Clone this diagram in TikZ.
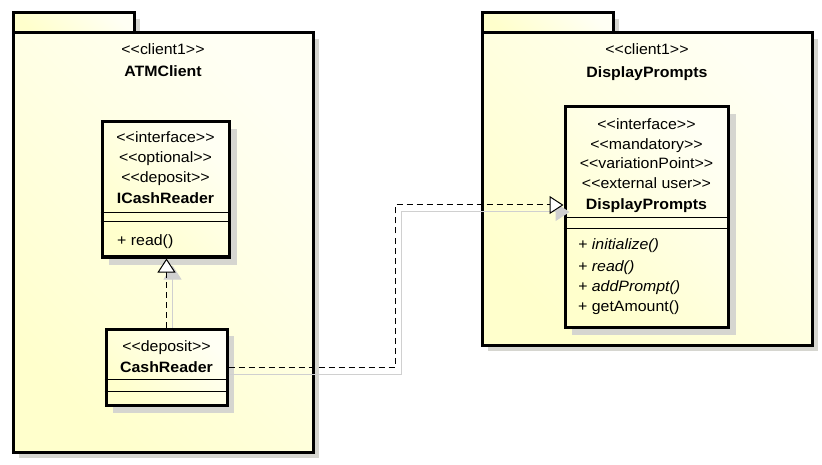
\documentclass[tikz,border=0pt]{standalone}
\usepackage{fontspec}
\setmainfont{Liberation Sans}[Ligatures=TeXOff, FakeStretch=1.06]
\usetikzlibrary{arrows.meta}
\definecolor{pkgA}{HTML}{FFFFF4}
\definecolor{pkgB}{HTML}{FFFFCC}
\definecolor{shadowgray}{HTML}{D6D6D0}
\definecolor{lineshadow}{HTML}{D0D0D0}
\tikzset{
  fnt/.style={font=\fontsize{15}{18}\selectfont, inner sep=0pt, anchor=base},
  ster/.style={fnt},
  title/.style={fnt, font=\fontsize{15}{18}\selectfont\bfseries},
  meth/.style={fnt, anchor=base west},
  imeth/.style={fnt, anchor=base west, font=\fontsize{15}{18}\selectfont\itshape},
  yfill/.style={left color=pkgA, right color=pkgB, shading angle=-45},
  pkgborder/.style={draw=black, line width=3pt},
  classbox/.style={rectangle, draw=black, line width=3pt, yfill, inner sep=0pt},
  shad/.style={fill=shadowgray, draw=none},
  sep/.style={draw=black, line width=1pt},
  dep/.style={draw=black, line width=1pt, dash pattern=on 6pt off 4pt,
    -{Triangle[open, fill=white, length=14pt, width=18pt, line width=1pt]}},
  depshadow/.style={draw=lineshadow, line width=1pt,
    -{Triangle[fill=lineshadow, length=14pt, width=18pt, line width=1pt]}},
}
\begin{document}
\begin{tikzpicture}[x=1pt, y=-1pt]
\useasboundingbox (0,0) rectangle (822,465);
% ---------- left package ----------
\fill[shad] (19,19) rectangle (140,39);
\fill[shad] (19,39) rectangle (319,458);
\shade[yfill] (13,13) rectangle (134,33);
\draw[pkgborder] (13,13) rectangle (134,33);
\shade[yfill] (13,33) rectangle (313,452);
\draw[pkgborder] (13,33) rectangle (313,452);
\node[ster] (lst) at (163,55) {<<client1>>};
\node[title] (ltitle) at (163,77) {ATMClient};
% ---------- right package ----------
\fill[shad] (488,19) rectangle (619,39);
\fill[shad] (488,39) rectangle (818,351);
\shade[yfill] (482,13) rectangle (613,33);
\draw[pkgborder] (482,13) rectangle (613,33);
\shade[yfill] (482,33) rectangle (812,345);
\draw[pkgborder] (482,33) rectangle (812,345);
\node[ster] (rst) at (647,55) {<<client1>>};
\node[title] (rtitle) at (647,78) {DisplayPrompts};
% ---------- ICashReader ----------
\fill[shad] (109,129) rectangle (237,265);
\node[classbox, minimum width=127pt, minimum height=135pt] (icr) at (165.5,189.5) {};
\draw[sep] (icr.west |- 0,213) -- (icr.east |- 0,213);
\draw[sep] (icr.west |- 0,222) -- (icr.east |- 0,222);
\node[ster] (icr1) at (165.5,143) {<<interface>>};
\node[ster] (icr2) at (165.5,163) {<<optional>>};
\node[ster] (icr3) at (165.5,183) {<<deposit>>};
\node[title] (icr4) at (165.5,204) {ICashReader};
\node[meth] (icrm) at (117,245) {+ read()};
% ---------- CashReader ----------
\fill[shad] (113,336) rectangle (234,413);
\node[classbox, minimum width=121pt, minimum height=76pt] (cr) at (166.5,367) {};
\draw[sep] (cr.west |- 0,379) -- (cr.east |- 0,379);
\draw[sep] (cr.west |- 0,391) -- (cr.east |- 0,391);
\node[ster] (cr1) at (166.5,351) {<<deposit>>};
\node[title] (cr2) at (166.5,372) {CashReader};
% ---------- DisplayPrompts class ----------
\fill[shad] (572,114) rectangle (736,335);
\node[classbox, minimum width=163pt, minimum height=220pt] (dp) at (646.5,217) {};
\draw[sep] (dp.west |- 0,218) -- (dp.east |- 0,218);
\draw[sep] (dp.west |- 0,229) -- (dp.east |- 0,229);
\node[ster] (dp1) at (646.5,130) {<<interface>>};
\node[ster] (dp2) at (646.5,150) {<<mandatory>>};
\node[ster] (dp3) at (646.5,169) {<<variationPoint>>};
\node[ster] (dp4) at (646.5,189) {<<external user>>};
\node[title] (dp5) at (646.5,210) {DisplayPrompts};
\node[imeth] (dpm1) at (578,250) {+ initialize()};
\node[imeth] (dpm2) at (578,271) {+ read()};
\node[imeth] (dpm3) at (578,291) {+ addPrompt()};
\node[meth] (dpm4) at (578,311) {+ getAmount()};
% ---------- connectors ----------
\coordinate (crtop) at ([xshift=6pt]cr.north);
\draw[depshadow] (crtop) -- ([xshift=6pt, yshift=-7pt]cr.north |- icr.south);
\draw[dep] (cr.north) -- (cr.north |- icr.south);
\coordinate (bend) at (395,205);
\coordinate (bends) at (401,212);
\draw[depshadow] ([yshift=-7pt]cr.east) -| (bends) -- ([xshift=6pt]bends -| dp.west);
\draw[dep] (cr.east) -| (bend) -- (bend -| dp.west);
\end{tikzpicture}
\end{document}
